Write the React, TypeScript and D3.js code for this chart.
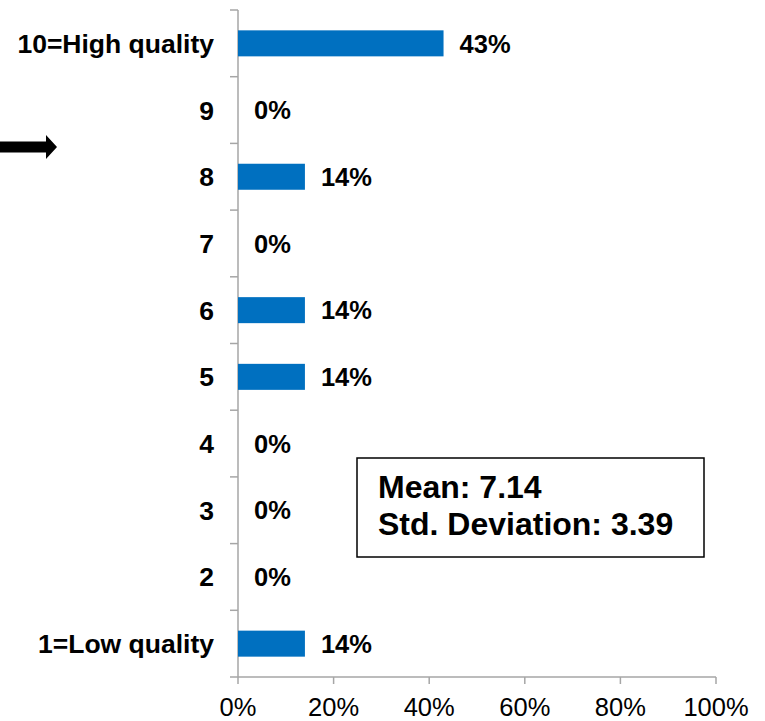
import React from "react";
import * as d3 from "d3";

const categories = ["10=High quality", "9", "8", "7", "6", "5", "4", "3", "2", "1=Low quality"];
const percents = [43, 0, 14, 0, 14, 14, 0, 0, 0, 14];
const xTicks = [0, 20, 40, 60, 80, 100];
const statLines = ["Mean: 7.14", "Std. Deviation: 3.39"];

const W = 765;
const H = 721;
const FONT = "Arial, 'Liberation Sans', Helvetica, sans-serif";
const AXIS = "#A6A6A6";
const BAR = "#0070C0";

export default function App() {
  const left = 238;
  const top = 10;
  const bottom = 677;
  const x = d3.scaleLinear().domain([0, 100]).range([left, 716]);
  const y = d3.scaleBand<string>().domain(categories).range([top, bottom]).paddingInner(0.61).paddingOuter(0.305);
  const band = (bottom - top) / categories.length;
  const boundaries = d3.range(categories.length + 1).map((i) => top + i * band);

  return (
    <svg width={W} height={H} style={{ position: "absolute", left: 0, top: 0, background: "#fff" }}>
      {/* arrow pointing at the chart */}
      <path d="M0,141.5 L46,141.5 L46,135 L57,147 L46,159 L46,152.5 L0,152.5 Z" fill="#000" />

      {/* y axis with category boundary ticks */}
      <line x1={left} x2={left} y1={top} y2={bottom} stroke={AXIS} strokeWidth={1.5} />
      {boundaries.map((b, i) => (
        <line key={i} x1={left - 8} x2={left} y1={b} y2={b} stroke={AXIS} strokeWidth={1.5} />
      ))}

      {/* x axis */}
      <line x1={left} x2={x(100)} y1={bottom} y2={bottom} stroke={AXIS} strokeWidth={1.5} />
      {xTicks.map((t) => (
        <g key={t}>
          <line x1={x(t)} x2={x(t)} y1={bottom} y2={bottom + 7} stroke={AXIS} strokeWidth={1.5} />
          <text x={x(t)} y={716} textAnchor="middle" fontFamily={FONT} fontSize={25.5} fill="#000">
            {t}%
          </text>
        </g>
      ))}

      {/* bars and labels */}
      {categories.map((c, i) => {
        const yc = (y(c) as number) + y.bandwidth() / 2;
        return (
          <g key={c}>
            <text x={214} y={yc} dy="0.36em" textAnchor="end" fontFamily={FONT} fontSize={26.5} fontWeight="bold" fill="#000">
              {c}
            </text>
            {percents[i] > 0 && (
              <rect x={x(0)} y={y(c)} width={x(percents[i]) - x(0)} height={y.bandwidth()} fill={BAR} />
            )}
            <text x={x(percents[i]) + 16} y={yc} dy="0.36em" fontFamily={FONT} fontSize={25.5} fontWeight="bold" fill="#000">
              {percents[i]}%
            </text>
          </g>
        );
      })}

      {/* summary statistics box */}
      <rect x={357} y={458} width={347} height={99} fill="#fff" stroke="#000" strokeWidth={1.5} />
      {statLines.map((s, i) => (
        <text key={s} x={378} y={498 + i * 37} fontFamily={FONT} fontSize={32} fontWeight="bold" fill="#000">
          {s}
        </text>
      ))}
    </svg>
  );
}
